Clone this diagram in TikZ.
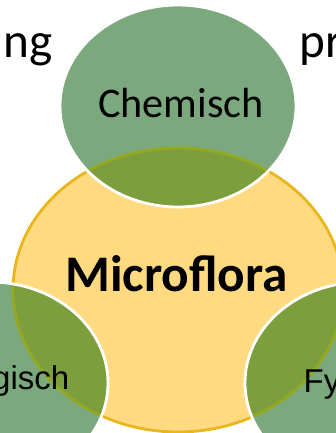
\documentclass[tikz,border=0pt]{standalone}
\usepackage{fontspec}
\setmainfont{Carlito}
\newfontfamily\arialfont{Liberation Sans}
\definecolor{leafgreen}{HTML}{7BA87C}
\definecolor{olivegreen}{HTML}{7C9E3D}
\definecolor{floryellow}{HTML}{FFDA80}
\definecolor{florgold}{HTML}{E9B61C}
\definecolor{florline}{HTML}{94A922}

\begin{document}
\begin{tikzpicture}[every node/.style={inner sep=0pt, anchor=base}, bigfont/.style={font=\fontsize{12}{14}\selectfont}, edgefont/.style={font=\fontsize{14}{16}\selectfont}, sidefont/.style={font=\arialfont\fontsize{9.4}{11}\selectfont}]
	\useasboundingbox (0,0) rectangle (3.36,4.33);
	\fill[floryellow] (1.78,1.43) ellipse (1.65 and 1.42);
	\draw[florgold, line width=0.8pt] (1.78,1.43) ellipse (1.65 and 1.42);
	\foreach \cx/\cy in {1.78/3.27, -0.10/0.50, 3.63/0.50} {\fill[leafgreen] (\cx,\cy) ellipse (1.18 and 1.01);}
	\begin{scope}
		\clip (1.78,1.43) ellipse (1.65 and 1.42);
		\foreach \cx/\cy in {1.78/3.27, -0.10/0.50, 3.63/0.50} {\fill[olivegreen] (\cx,\cy) ellipse (1.18 and 1.01);}
	\end{scope}
	\begin{scope}
		\clip (1.78,3.27) ellipse (1.18 and 1.01) (-0.10,0.50) ellipse (1.18 and 1.01) (3.63,0.50) ellipse (1.18 and 1.01);
		\draw[florline, line width=0.8pt] (1.78,1.43) ellipse (1.65 and 1.42);
	\end{scope}
	\foreach \cx/\cy in {1.78/3.27, -0.10/0.50, 3.63/0.50} {\draw[white, line width=0.8pt] (\cx,\cy) ellipse (1.18 and 1.01);}
	\node[bigfont] (chem) at (1.81,3.15) {Chemisch};
	\node[font=\bfseries\fontsize{14.6}{17}\selectfont] (micro) at (1.765,1.41) {Microflora};
	\node[sidefont, anchor=base east] (bio) at (0.70,0.43) {gisch};
	\node[sidefont, anchor=base west] (fys) at (3.03,0.41) {Fy};
	\node[edgefont, anchor=base east] (leftword) at (0.53,3.75) {ng};
	\node[edgefont, anchor=base west] (rightword) at (2.99,3.75) {pr};
\end{tikzpicture}
\end{document}
